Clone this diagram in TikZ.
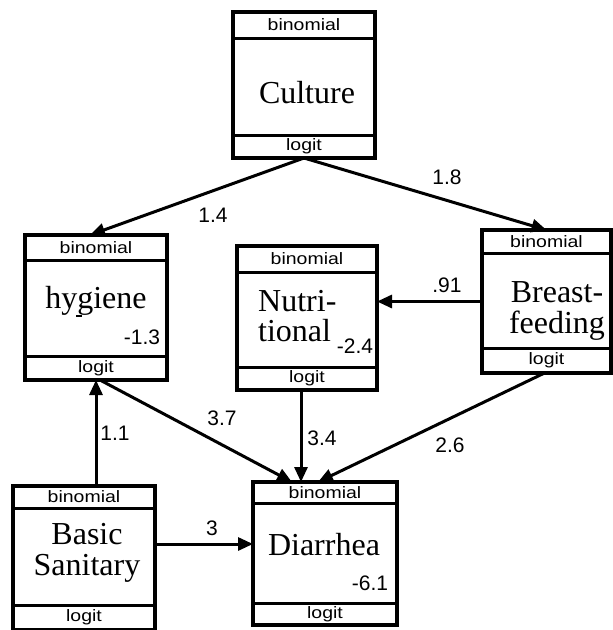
\documentclass[tikz,border=0pt]{standalone}
\usepackage{fontspec}
\setmainfont{Liberation Serif}
\newfontfamily\lsans{Liberation Sans}
\usetikzlibrary{arrows.meta,calc}
\newcommand\widetext[1]{\scalebox{1.18}[1]{#1}}
\begin{document}
\begin{tikzpicture}[x=1pt,y=-1pt,
 box/.style={draw, line width=3.6pt, rectangle, inner sep=0pt, outer sep=0pt},
 sepline/.style={line width=3pt},
 tag/.style={font=\lsans\fontsize{16.5}{16.5}\selectfont, inner sep=0pt},
 num/.style={font=\lsans\fontsize{21}{21}\selectfont, inner sep=0pt},
 vname/.style={font=\fontsize{32}{30.5}\selectfont, inner sep=0pt, align=center},
 arr/.style={line width=3pt, -{Triangle[length=15pt,width=13pt]}},
]
\fill[white] (0,0) rectangle (613,630);
\useasboundingbox (0,0) rectangle (613,630);
\clip (0,0) rectangle (613,630);

% boxes
\node[box, minimum width=142pt, minimum height=146pt] (cult) at (304,85) {};
\node[box, minimum width=142pt, minimum height=145pt] (hyg) at (96,307.5) {};
\node[box, minimum width=140pt, minimum height=144pt] (nutr) at (307,318) {};
\node[box, minimum width=129pt, minimum height=143pt] (breast) at (546.5,301.5) {};
\node[box, minimum width=142pt, minimum height=144pt] (basic) at (84,558) {};
\node[box, minimum width=144pt, minimum height=143pt] (diar) at (325,553.5) {};

% header / footer strips
\foreach \n/\h/\l in {cult/26/23, hyg/25/24, nutr/26/23, breast/23/25, basic/22/25, diar/21/22}{
  \draw[sepline] ($(\n.north west)+(0,\h)$) -- ($(\n.north east)+(0,\h)$);
  \draw[sepline] ($(\n.south west)+(0,-\l)$) -- ($(\n.south east)+(0,-\l)$);
  \node[tag] (\n-h) at ($(\n.north)+(0,\h/2)$) {\widetext{binomial}};
  \node[tag] (\n-f) at ($(\n.south)+(0,-\l/2)$) {\widetext{logit}};
}

% names
\node[vname, anchor=base] (tcult) at (307,103) {Culture};
\node[vname, anchor=base] (thyg) at (96,308) {hygiene};
\node[vname, anchor=west, align=left] (tnutr) at (258,316) {Nutri-\\tional};
\node[vname] (tbreast) at (557,311) {Breast-\\feeding};
\node[vname] (tbasic) at (87,553) {Basic\\Sanitary};
\node[vname, anchor=base] (tdiar) at (324,555) {Diarrhea};

% intercepts
\node[num] (ihyg) at (142,337) {-1.3};
\node[num] (inutr) at (355,346) {-2.4};
\node[num] (idiar) at (370,583) {-6.1};
\draw[line width=1.2pt] (76,316) -- (82,316);

% connectors
\draw[arr] (cult.south) -- ([xshift=-6pt]hyg.north);
\draw[arr] (cult.south) -- (breast.north);
\draw[arr] ([xshift=4pt]hyg.south) -- ([xshift=-33pt]diar.north);
\draw[arr] ([xshift=-6pt]nutr.south) -- ([xshift=-6pt]nutr.south |- diar.north);
\draw[arr] ([xshift=-2pt]breast.south) -- ([xshift=-7pt]diar.north);
\draw[arr] (basic.north -| hyg.south) -- (hyg.south);
\draw[arr] (breast.west) -- (breast.west -| nutr.east);
\draw[arr] ([yshift=14pt]basic.east) -- ([yshift=14pt]basic.east -| diar.west);

% edge labels
\node[num] (l1) at (213,215) {1.4};
\node[num] (l2) at (447,177) {1.8};
\node[num] (l3) at (447,285) {.91};
\node[num] (l4) at (222,418) {3.7};
\node[num] (l5) at (322,438) {3.4};
\node[num] (l6) at (450,445) {2.6};
\node[num] (l7) at (115,433) {1.1};
\node[num] (l8) at (212,528) {3};
\end{tikzpicture}
\end{document}
